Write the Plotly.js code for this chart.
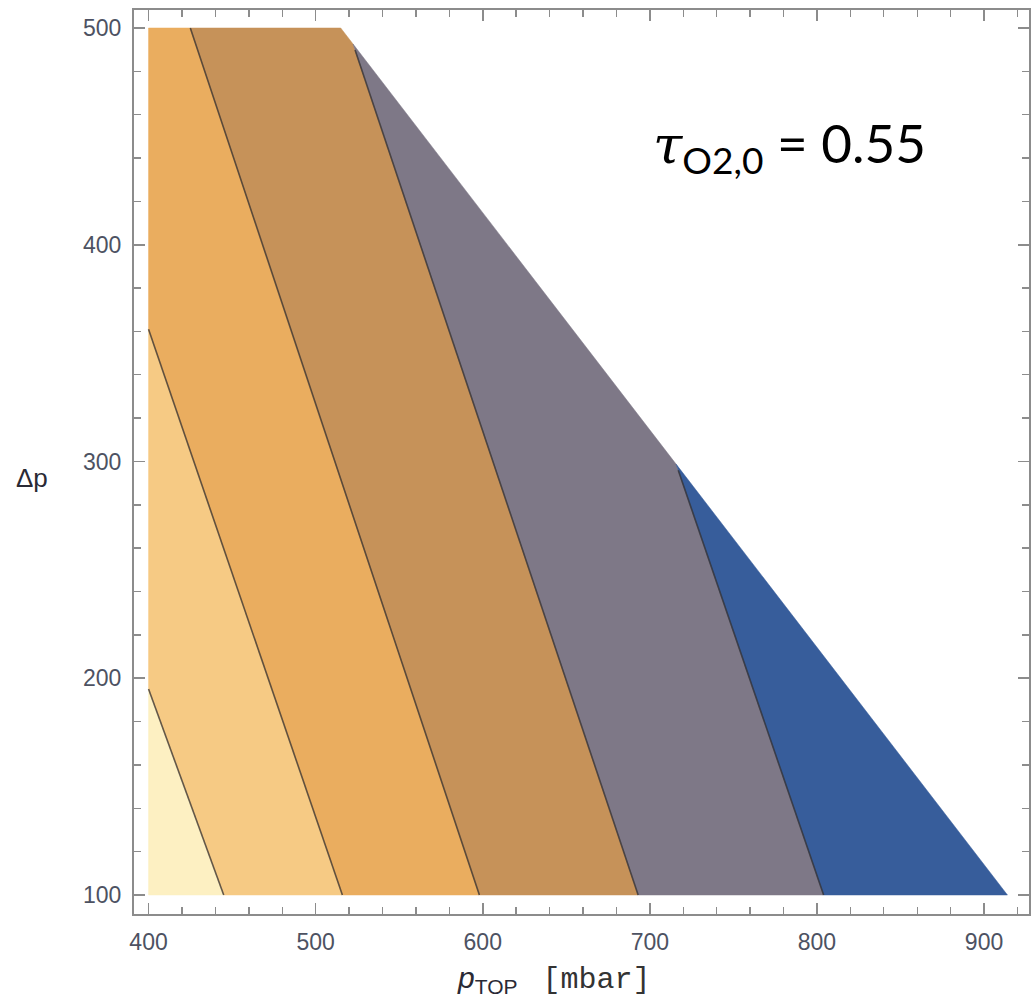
<!DOCTYPE html>
<html>
<head>
<meta charset="utf-8">
<script src="https://cdn.plot.ly/plotly-3.0.1.min.js"></script>
<style>html,body{margin:0;padding:0;background:#fff;}#chart{width:1032px;height:1000px;}</style>
</head>
<body>
<div id="chart"></div>
<script>
// Feasible region (p_TOP + Δp limited by ~1 atm), vertices
const regionX = [400, 400, 515, 914];
const regionY = [100, 500, 500, 100];

// Contour lines: upper and lower endpoints
const lineTopX = [400, 400, 425, 523.6, 717];
const lineTopY = [195, 361, 500, 489.8, 296];
const lineBotX = [445, 516, 598, 693, 804];
const lineBotY = [100, 100, 100, 100, 100];

// Band fill colours, left (high) to right (low)
const bandColors = ['#FDF0C2', '#F6CA84', '#EAAD5F', '#C69259', '#7E7887', '#375D9B'];

// Axis ticks
const xTicks = [400, 500, 600, 700, 800, 900];
const yTicks = [100, 200, 300, 400, 500];

// Annotation text
const tauLabel = '<span style="font-family:\'DejaVu Serif\';font-style:italic">τ</span><sub>O2,0</sub> = 0.55';

function side(i, x, y) {
  const ax = lineTopX[i], ay = lineTopY[i], bx = lineBotX[i], by = lineBotY[i];
  return (bx - ax) * (y - ay) - (by - ay) * (x - ax);
}
// Sutherland–Hodgman clip keeping points with sgn*side <= 0
function clip(poly, i, sgn) {
  const out = [];
  for (let k = 0; k < poly.length; k++) {
    const p = poly[k], q = poly[(k + 1) % poly.length];
    const fp = sgn * side(i, p[0], p[1]), fq = sgn * side(i, q[0], q[1]);
    if (fp <= 0) out.push(p);
    if ((fp < 0 && fq > 0) || (fp > 0 && fq < 0)) {
      const t = fp / (fp - fq);
      out.push([p[0] + t * (q[0] - p[0]), p[1] + t * (q[1] - p[1])]);
    }
  }
  return out;
}

const region = regionX.map((x, i) => [x, regionY[i]]);
const traces = [];
for (let b = 0; b < bandColors.length; b++) {
  let poly = region.slice();
  if (b > 0) poly = clip(poly, b - 1, -1);
  if (b < lineTopX.length) poly = clip(poly, b, 1);
  traces.push({
    type: 'scatter', mode: 'lines',
    x: poly.map(p => p[0]).concat([poly[0][0]]),
    y: poly.map(p => p[1]).concat([poly[0][1]]),
    fill: 'toself', fillcolor: bandColors[b],
    line: {width: 0.5, color: bandColors[b]},
    hoverinfo: 'skip', showlegend: false
  });
}
for (let i = 0; i < lineTopX.length; i++) {
  traces.push({
    type: 'scatter', mode: 'lines',
    x: [lineTopX[i], lineBotX[i]], y: [lineTopY[i], lineBotY[i]],
    line: {width: 1.6, color: 'rgba(50,45,45,0.75)'},
    hoverinfo: 'skip', showlegend: false
  });
}

const axisCommon = {
  showgrid: false, zeroline: false,
  showline: true, linecolor: '#8c8c8c', linewidth: 2, mirror: 'ticks',
  ticks: 'inside', ticklen: 11, tickwidth: 1.6, tickcolor: '#8c8c8c',
  tickfont: {family: 'Liberation Sans, Arial, sans-serif', size: 23, color: '#4d5262'},
  minor: {ticks: 'inside', ticklen: 7, tickwidth: 1.4, tickcolor: '#8c8c8c', dtick: 20, showgrid: false}
};

const layout = {
  width: 1032, height: 1000,
  margin: {l: 134, r: 3, t: 10, b: 86},
  paper_bgcolor: '#ffffff', plot_bgcolor: '#ffffff',
  showlegend: false,
  xaxis: Object.assign({}, axisCommon, {
    range: [391.3, 926.9], tickvals: xTicks, ticktext: xTicks.map(String),
    ticklabelstandoff: 6
  }),
  yaxis: Object.assign({}, axisCommon, {
    range: [91.23, 508.3], tickvals: yTicks, ticktext: yTicks.map(String),
    ticklabelstandoff: 6
  }),
  annotations: [
    {xref: 'paper', yref: 'paper', x: 0.578, y: 0.849, xanchor: 'left', yanchor: 'middle',
     text: tauLabel, showarrow: false,
     font: {family: 'Lato, Carlito, Open Sans, sans-serif', size: 53, color: '#000'}},
    {xref: 'paper', yref: 'paper', x: 0.469, y: -0.073, xanchor: 'center', yanchor: 'middle',
     text: '<i>p</i><sub>TOP</sub>   <span style="font-family:\'Liberation Mono\';color:#333">[mbar]</span>',
     showarrow: false,
     font: {family: 'Liberation Sans, Arial, sans-serif', size: 30, color: '#2a2a35'}},
    {xref: 'paper', yref: 'paper', x: -0.114, y: 0.482, xanchor: 'center', yanchor: 'middle',
     text: 'Δp', showarrow: false,
     font: {family: 'Liberation Sans, Arial, sans-serif', size: 26, color: '#2a2a35'}}
  ]
};

Plotly.newPlot('chart', traces, layout, {displayModeBar: false, staticPlot: true});
</script>
</body>
</html>
